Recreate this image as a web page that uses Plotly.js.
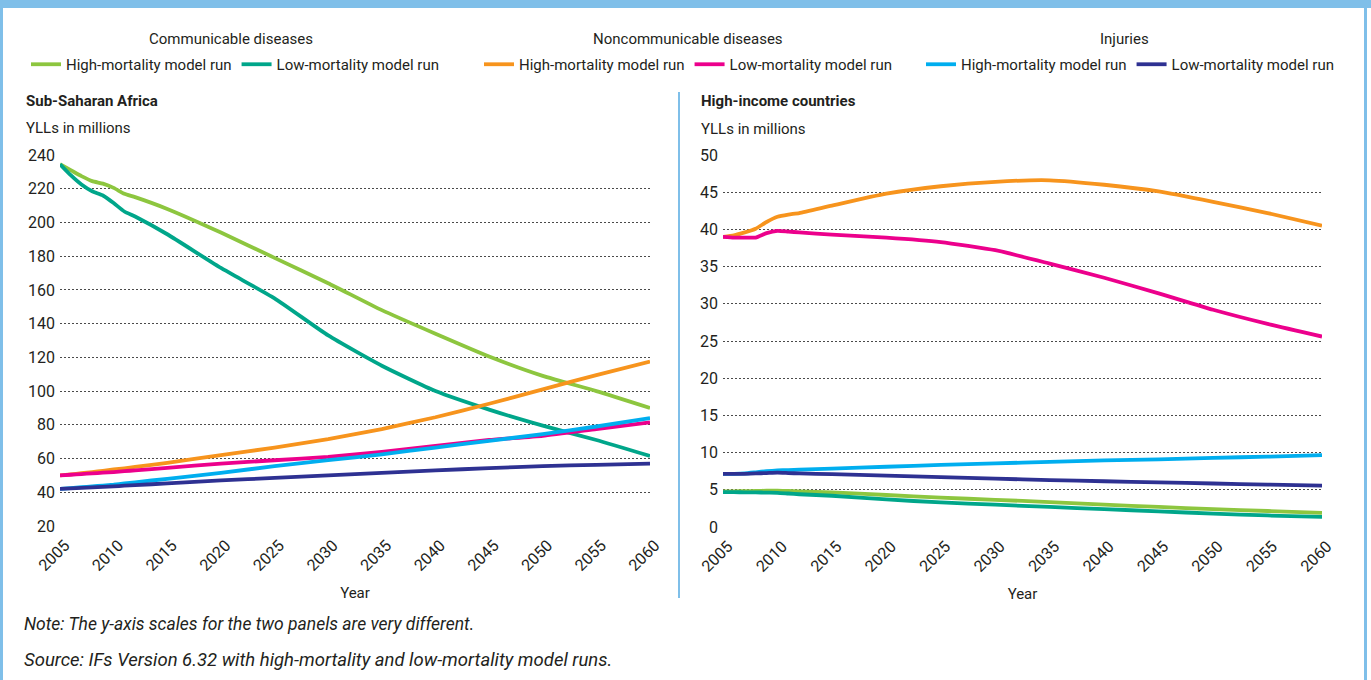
<!DOCTYPE html>
<html>
<head>
<meta charset="utf-8">
<script src="https://cdn.plot.ly/plotly-3.0.1.min.js"></script>
<style>
  html, body { margin: 0; padding: 0; background: #ffffff; }
  #chart { width: 1371px; height: 680px; }
</style>
</head>
<body>
<div id="chart"></div>
<script>
// Years of life lost (YLLs, millions) by cause, two model runs
const years = [2005, 2006, 2007, 2008, 2009, 2010, 2011, 2012, 2015, 2020, 2025, 2030, 2035, 2040, 2045, 2050, 2055, 2060];

// Sub-Saharan Africa
const ssaCommHigh = [234.5, 231, 227.5, 224.5, 223, 220.5, 217, 215, 208, 194, 179, 164, 148, 134, 120.5, 109, 100, 90];
const ssaCommLow  = [234.5, 228, 222.5, 218.5, 216, 211.5, 206.5, 203.5, 193, 173, 155, 133, 115, 100, 89, 79.5, 71, 61.5];
const ssaNcdHigh  = [50, 50.6, 51.3, 52, 52.7, 53.5, 54.2, 55, 57.5, 62, 66.5, 71.5, 77.5, 84.5, 92.5, 101, 109.5, 117.5];
const ssaNcdLow   = [50, 50.4, 50.8, 51.2, 51.6, 52, 52.5, 53, 54.5, 57, 59, 61, 64, 67.5, 71, 73.5, 77.5, 81.5];
const ssaInjHigh  = [42, 42.5, 43, 43.5, 44, 44.5, 45.2, 45.9, 48, 51.5, 55.5, 59, 62.5, 66.5, 70.5, 74.5, 79, 84];
const ssaInjLow   = [42, 42.3, 42.6, 42.9, 43.2, 43.5, 43.9, 44.2, 45.3, 47, 48.5, 50, 51.5, 53, 54.3, 55.5, 56.3, 57];

// High-income countries
const hicCommHigh = [4.8, 4.8, 4.82, 4.85, 4.88, 4.9, 4.85, 4.8, 4.65, 4.3, 3.95, 3.65, 3.35, 3.0, 2.7, 2.4, 2.15, 1.9];
const hicCommLow  = [4.7, 4.68, 4.66, 4.65, 4.62, 4.6, 4.5, 4.4, 4.2, 3.7, 3.3, 3.0, 2.7, 2.4, 2.1, 1.8, 1.55, 1.35];
const hicNcdHigh  = [39.0, 39.2, 39.6, 40.1, 41.0, 41.7, 42.0, 42.2, 43.2, 44.8, 45.8, 46.4, 46.6, 46.0, 45.1, 43.7, 42.2, 40.5];
const hicNcdLow   = [39.0, 38.9, 38.9, 38.9, 39.5, 39.8, 39.7, 39.6, 39.3, 38.9, 38.3, 37.2, 35.4, 33.5, 31.4, 29.2, 27.3, 25.6];
const hicInjHigh  = [7.15, 7.15, 7.2, 7.35, 7.5, 7.6, 7.65, 7.7, 7.85, 8.1, 8.35, 8.55, 8.75, 8.95, 9.1, 9.3, 9.45, 9.65];
const hicInjLow   = [7.15, 7.15, 7.15, 7.2, 7.25, 7.3, 7.25, 7.2, 7.1, 6.9, 6.7, 6.5, 6.3, 6.15, 6.0, 5.85, 5.7, 5.55];

const runNames = ['High-mortality model run', 'Low-mortality model run'];
const causeTitles = ['Communicable diseases', 'Noncommunicable diseases', 'Injuries'];
const yearTicks = [2005, 2010, 2015, 2020, 2025, 2030, 2035, 2040, 2045, 2050, 2055, 2060];
const leftTicks = [20, 40, 60, 80, 100, 120, 140, 160, 180, 200, 220, 240];
const rightTicks = [0, 5, 10, 15, 20, 25, 30, 35, 40, 45, 50];

const W = 1371, H = 680;
const px = x => x / W;
const py = y => 1 - y / H;
const FONT = 'Roboto, "Noto Sans", sans-serif';
const INK = '#231f20';
const FRAME = '#7fbfe9';

const palette = {
  commHigh: '#8dc63f', commLow: '#00a68a',
  ncdHigh: '#f7941d', ncdLow: '#ec008c',
  injHigh: '#00aeef', injLow: '#2e3192'
};

function line(y, color, name, xa, ya, legend, showlegend, group) {
  return {
    type: 'scatter', mode: 'lines', x: years, y: y, name: name,
    xaxis: xa, yaxis: ya, legend: legend, legendgroup: group, showlegend: showlegend,
    line: { color: color, width: 3.8, shape: 'spline', smoothing: 0.5 },
    hoverinfo: 'x+y+name'
  };
}

const panels = [
  { xa: 'x', ya: 'y', show: true,
    s: [ssaCommHigh, ssaCommLow, ssaNcdHigh, ssaNcdLow, ssaInjHigh, ssaInjLow] },
  { xa: 'x2', ya: 'y2', show: false,
    s: [hicCommHigh, hicCommLow, hicNcdHigh, hicNcdLow, hicInjHigh, hicInjLow] }
];
const keys = ['commHigh', 'commLow', 'ncdHigh', 'ncdLow', 'injHigh', 'injLow'];
const legendIds = ['legend', 'legend', 'legend2', 'legend2', 'legend3', 'legend3'];

const data = [];
panels.forEach(p => {
  p.s.forEach((vals, i) => {
    data.push(line(vals, palette[keys[i]], runNames[i % 2], p.xa, p.ya,
                   legendIds[i], p.show, keys[i]));
  });
});

const tickFont = { family: FONT, size: 16, color: INK };

function xAxis(domain, anchor) {
  return {
    domain: domain, anchor: anchor, range: [2005, 2060],
    tickvals: yearTicks, tickangle: -45, tickfont: tickFont,
    ticklabelstandoff: 6, ticklabelshift: 5,
    showgrid: false, zeroline: false, showline: false, ticks: '',
    title: { text: 'Year', font: { family: FONT, size: 15, color: INK }, standoff: 13 },
    fixedrange: true
  };
}
function yAxis(domain, anchor, range, ticks) {
  return {
    domain: domain, anchor: anchor, range: range, tickvals: ticks,
    tickfont: tickFont, showgrid: true, gridcolor: '#4a4a4a', gridwidth: 1,
    griddash: '2px,2px', zeroline: false, showline: false, ticks: '',
    ticklabelstandoff: 4, fixedrange: true
  };
}

function legendBox(cx) {
  return {
    orientation: 'h', x: px(cx), xanchor: 'center', y: py(48), yanchor: 'top',
    font: { family: FONT, size: 15, color: INK }, bgcolor: 'rgba(0,0,0,0)',
    itemwidth: 30, itemclick: false, itemdoubleclick: false
  };
}

const textAnn = (t, x, y, opts = {}) => Object.assign({
  text: t, xref: 'paper', yref: 'paper', x: px(x), y: py(y),
  xanchor: 'left', yanchor: 'middle', showarrow: false,
  font: { family: FONT, size: 15, color: INK }
}, opts);

const layout = {
  width: W, height: H,
  margin: { l: 0, r: 0, t: 0, b: 0 },
  paper_bgcolor: '#ffffff', plot_bgcolor: '#ffffff',
  showlegend: true,
  xaxis: xAxis([px(60), px(650)], 'y'),
  yaxis: yAxis([py(526), py(155)], 'x', [20, 240], leftTicks),
  xaxis2: xAxis([px(723), px(1322)], 'y2'),
  yaxis2: yAxis([py(527), py(155)], 'x2', [0, 50], rightTicks),
  legend: legendBox(235),
  legend2: legendBox(688),
  legend3: legendBox(1130),
  annotations: [
    textAnn(causeTitles[0], 231, 39, { xanchor: 'center' }),
    textAnn(causeTitles[1], 688, 39, { xanchor: 'center' }),
    textAnn(causeTitles[2], 1124, 39, { xanchor: 'center' }),
    textAnn('<b>Sub-Saharan Africa</b>', 24, 101),
    textAnn('YLLs in millions', 24, 128),
    textAnn('<b>High-income countries</b>', 699, 101),
    textAnn('YLLs in millions', 699, 129),
    textAnn('<i>Note: The y-axis scales for the two panels are very different.</i>', 22, 624,
            { font: { family: FONT, size: 17.5, color: INK } }),
    textAnn('<i>Source: IFs Version 6.32 with high-mortality and low-mortality model runs.</i>', 22, 660,
            { font: { family: FONT, size: 18.5, color: INK } })
  ],
  shapes: [
    // outer frame
    { type: 'rect', xref: 'paper', yref: 'paper', x0: 0, x1: 1, y0: py(8), y1: 1,
      fillcolor: FRAME, line: { width: 0 }, layer: 'above' },
    { type: 'rect', xref: 'paper', yref: 'paper', x0: 0, x1: px(3), y0: 0, y1: 1,
      fillcolor: FRAME, line: { width: 0 }, layer: 'above' },
    { type: 'rect', xref: 'paper', yref: 'paper', x0: px(1364), x1: px(1367), y0: 0, y1: 1,
      fillcolor: FRAME, line: { width: 0 }, layer: 'above' },
    // divider between panels
    { type: 'line', xref: 'paper', yref: 'paper', x0: px(679), x1: px(679), y0: py(92), y1: py(598),
      line: { color: FRAME, width: 2 } }
  ]
};

Plotly.newPlot('chart', data, layout, { displayModeBar: false, staticPlot: true });
</script>
</body>
</html>
